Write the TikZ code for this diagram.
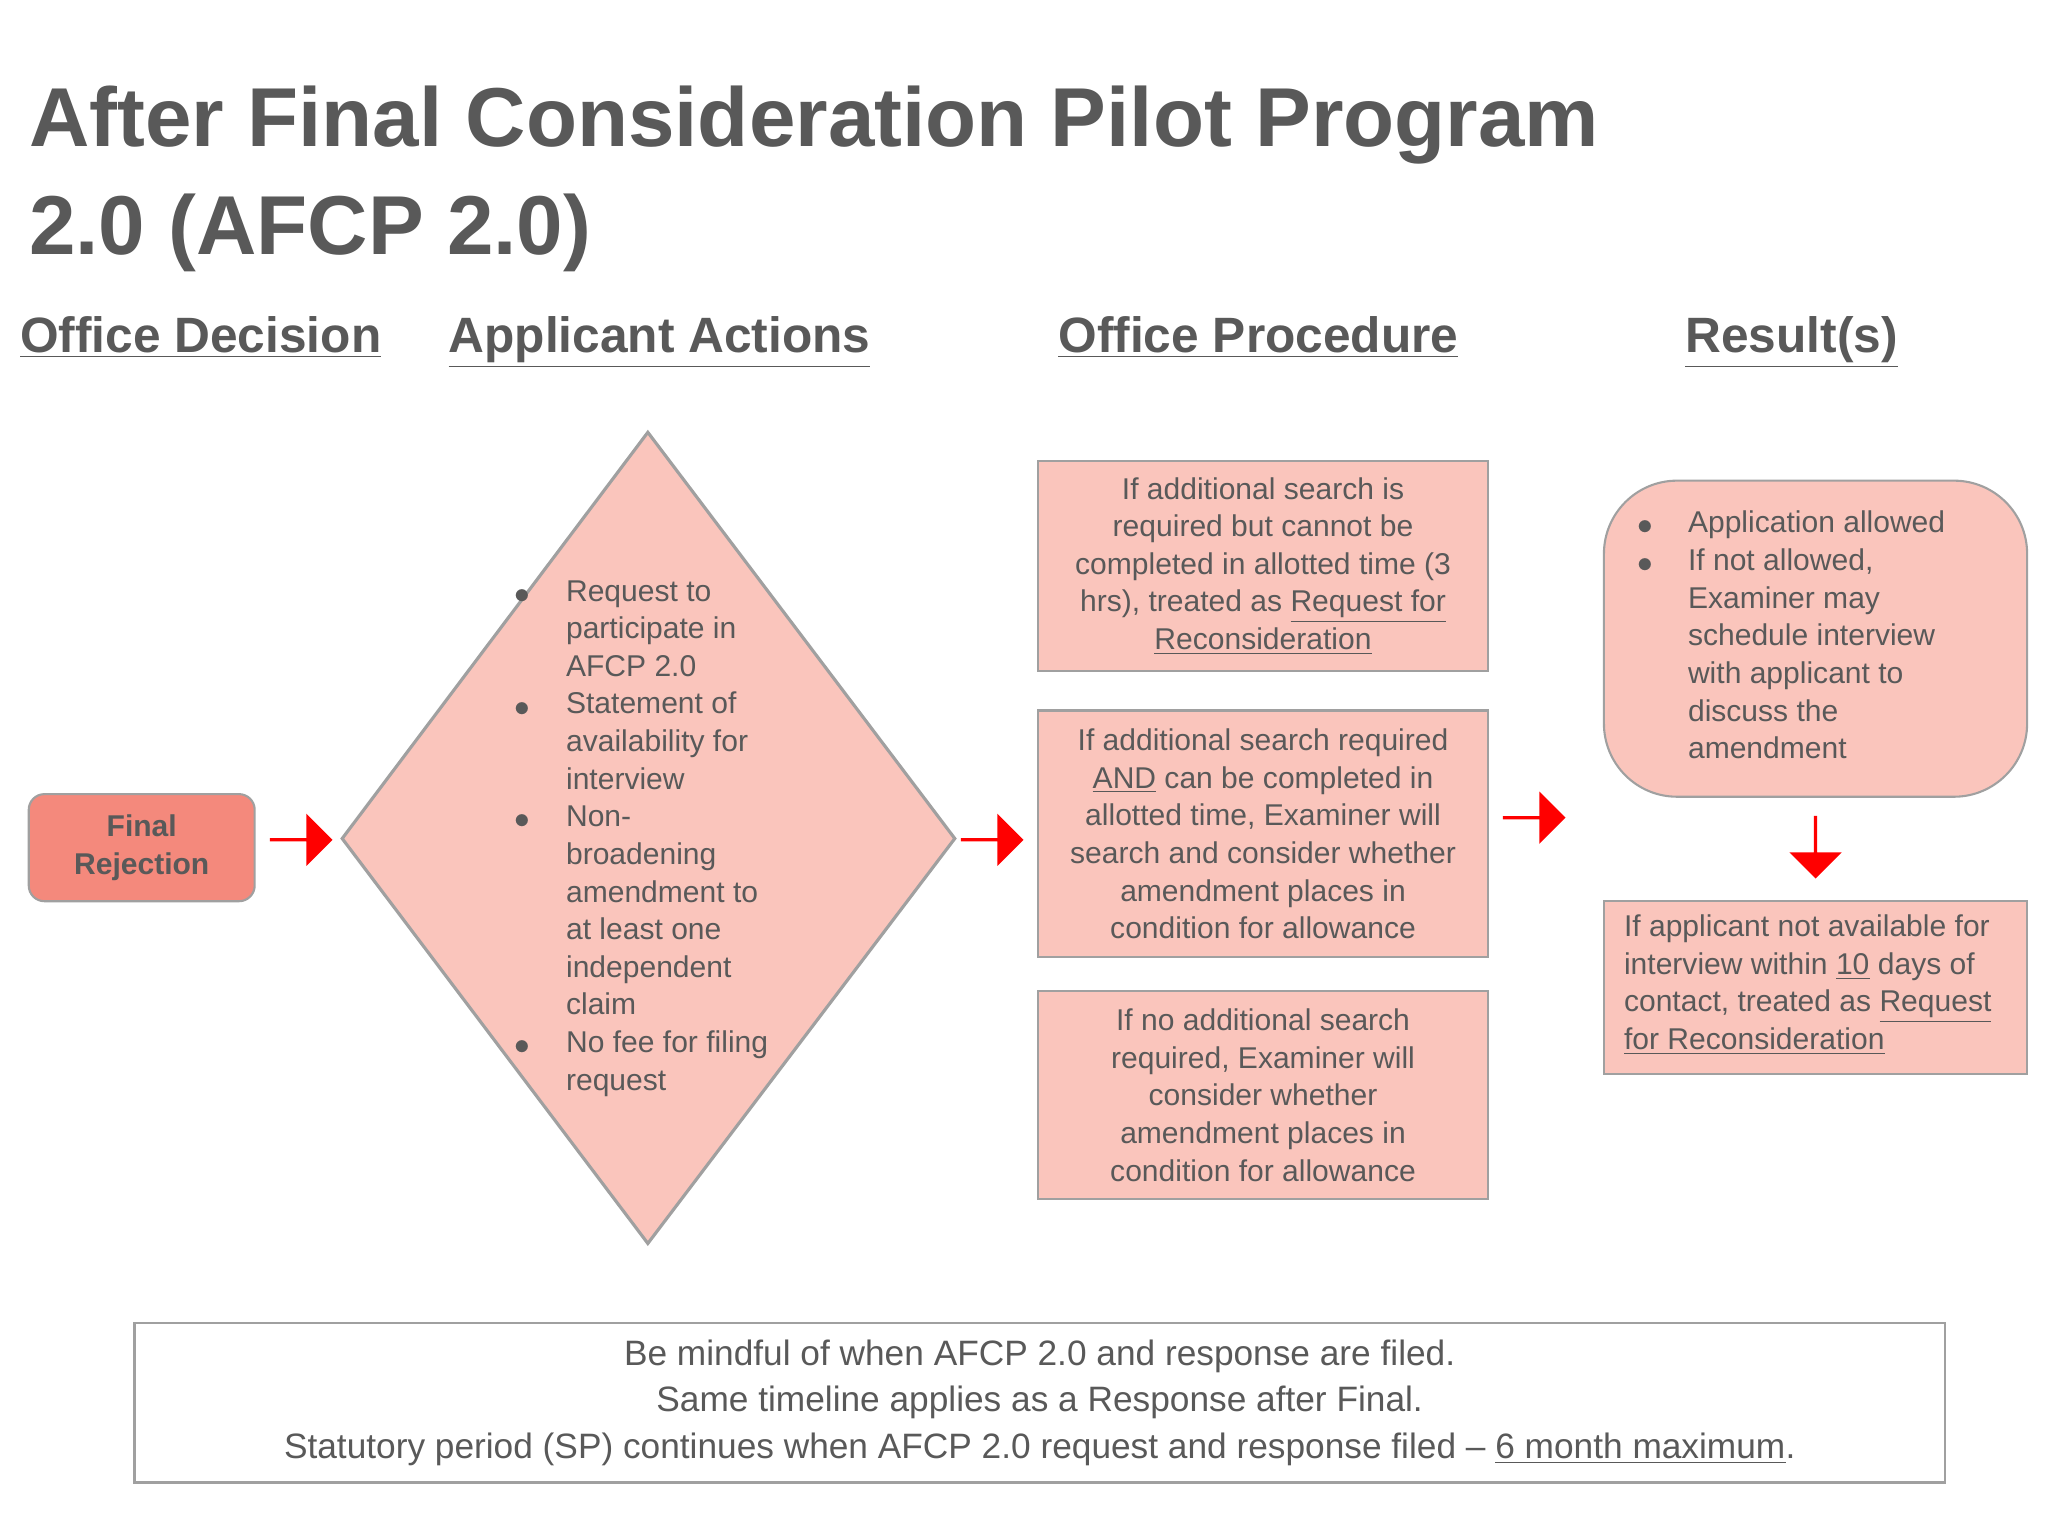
\documentclass[tikz,border=0pt]{standalone}
\usepackage{fontspec}
\setmainfont{Liberation Sans}
\usetikzlibrary{shapes.arrows,shapes.geometric}
\definecolor{txt}{HTML}{595959}
\definecolor{pink}{HTML}{FAC5BC}
\definecolor{fr}{HTML}{F4897C}
\definecolor{bd}{HTML}{A0A0A0}
\begin{document}
\begin{tikzpicture}[x=0.5pt,y=-0.5pt,
  every node/.style={text=txt,inner sep=0pt},
  head/.style={font=\fontsize{19}{22}\selectfont\bfseries,anchor=base west},
  body/.style={font=\fontsize{11.5}{14.4}\selectfont},
  box/.style={draw=bd,line width=0.8pt,fill=pink},
  rarrow/.style={single arrow,fill=red,draw=none,minimum height=24pt,minimum width=20pt,single arrow head extend=3pt,inner sep=0pt}]
\useasboundingbox (0,0) rectangle (1568,1176);
\fill[white] (0,0) rectangle (1568,1176);
% title
\node[anchor=base west,font=\fontsize{32}{41}\selectfont\bfseries,align=left] (title) at (22,112) {After Final Consideration Pilot Program};
\node[anchor=base west,font=\fontsize{32}{41}\selectfont\bfseries] (title2) at (22,195) {2.0 (AFCP 2.0)};
% headings
\node[head] (h1) at (15,270) {\underline{Office Decision}};
\node[head] (h2) at (343,270) {\underline{Applicant Actions}};
\node[head] (h3) at (810,270) {\underline{Office Procedure}};
\node[head] (h4) at (1290,270) {\underline{Result(s)}};
% final rejection
\draw[box,fill=fr,rounded corners=6pt] (22,608) rectangle (195,690);
\node[font=\fontsize{11.5}{14.4}\selectfont\bfseries,align=center] (fr) at (108.5,649) {Final\\Rejection};
\node[rarrow] (a1) at (230,643) {};
% diamond
\draw[box,line width=1.2pt] (496,331) -- (731,642) -- (496,952) -- (262,642) -- cycle;
\node[body,anchor=north west,align=left] (dt) at (433,444) {Request to\\participate in\\AFCP 2.0\\Statement of\\availability for\\interview\\Non-\\broadening\\amendment to\\at least one\\independent\\claim\\No fee for filing\\request};
\foreach \y in {457,543,629,802} \node[body] at (400,\y) {$\bullet$};
\node[rarrow] (a2) at (759,643) {};
% procedure boxes
\draw[box] (795,353) rectangle (1139,514);
\node[body,align=center] (p1) at (967,433.5) {If additional search is\\required but cannot be\\completed in allotted time (3\\hrs), treated as \underline{Request for}\\\underline{Reconsideration}};
\draw[box] (795,544) rectangle (1139,733);
\node[body,align=center] (p2) at (967,638.5) {If additional search required\\\underline{AND} can be completed in\\allotted time, Examiner will\\search and consider whether\\amendment places in\\condition for allowance};
\draw[box] (795,759) rectangle (1139,918);
\node[body,align=center] (p3) at (967,838.5) {If no additional search\\required, Examiner will\\consider whether\\amendment places in\\condition for allowance};
\node[rarrow] (a3) at (1174,626) {};
% results
\draw[box,rounded corners=28pt] (1228,368) rectangle (1552,610);
\node[body,anchor=north west,align=left] (r1) at (1292,391) {Application allowed\\If not allowed,\\Examiner may\\schedule interview\\with applicant to\\discuss the\\amendment};
\foreach \y in {404,433} \node[body] at (1260,\y) {$\bullet$};
\node[rarrow,rotate=-90] (a4) at (1390,648) {};
\draw[box] (1228,690) rectangle (1552,822);
\node[body,anchor=north west,align=left] (r2) at (1243,700) {If applicant not available for\\interview within \underline{10} days of\\contact, treated as \underline{Request}\\\underline{for Reconsideration}};
% bottom
\draw[draw=bd,line width=0.8pt,fill=white] (103,1013) rectangle (1489,1135);
\node[align=center,font=\fontsize{13.5}{17.7}\selectfont] (bt) at (796,1074) {Be mindful of when AFCP 2.0 and response are filed.\\Same timeline applies as a Response after Final.\\Statutory period (SP) continues when AFCP 2.0 request and response filed -- \underline{6 month maximum}.};
\end{tikzpicture}
\end{document}
